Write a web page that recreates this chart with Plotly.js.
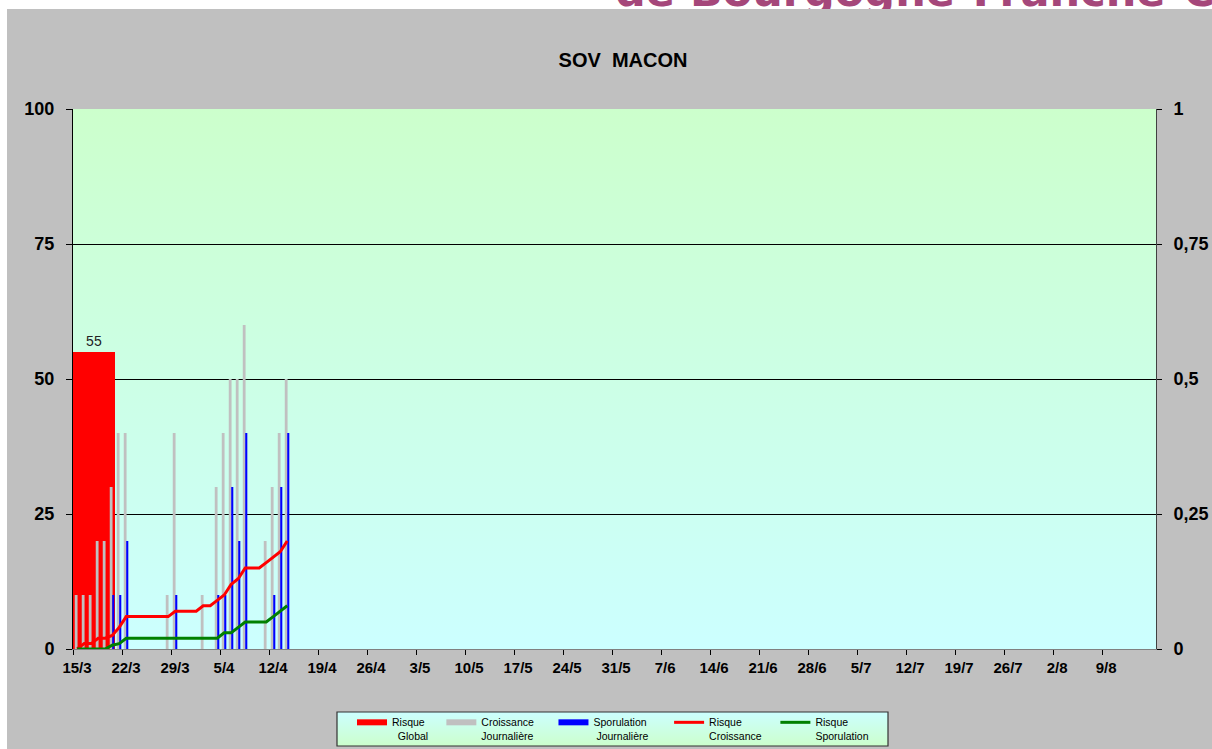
<!DOCTYPE html>
<html><head><meta charset="utf-8">
<script src="https://cdn.plot.ly/plotly-3.0.1.min.js"></script>
<style>
html,body{margin:0;padding:0;background:#fff;width:1212px;height:749px;overflow:hidden;position:relative}
#banner{position:absolute;left:615px;top:-30px;font-family:"DejaVu Sans";font-weight:bold;font-size:43px;line-height:43px;color:#a5477a;white-space:nowrap}
#chart{position:absolute;left:7px;top:9px;width:1205px;height:740px}
</style></head><body>
<div id="banner">de Bourgogne-Franche-Comté</div>
<div id="chart"></div>
<script>
// tick labels (one per week, starting 15/3 = day 0)
const dateLabels = ['15/3','22/3','29/3','5/4','12/4','19/4','26/4','3/5','10/5','17/5','24/5','31/5','7/6','14/6','21/6','28/6','5/7','12/7','19/7','26/7','2/8','9/8'];

// Risque Global (left axis)
const globalDays = [0];
const globalValues = [55];
const globalLabels = ['55'];

// Croissance Journalière (left axis)
const croissanceDays   = [0,1,2,3,4,5,6,7,13,14,18,20,21,22,23,24,27,28,29,30];
const croissanceValues = [10,10,10,20,20,30,40,40,10,40,10,30,40,50,50,60,20,30,40,50];

// Sporulation Journalière (left axis)
const sporulationDays   = [5,6,7,14,20,21,22,23,24,28,29,30];
const sporulationValues = [10,10,20,10,10,10,30,20,40,10,30,40];

// cumulative risks (right axis)
const riskDays = [0,1,2,3,4,5,6,7,8,9,10,11,12,13,14,15,16,17,18,19,20,21,22,23,24,25,26,27,28,29,30];
const risqueCroissance  = [0,0.01,0.01,0.02,0.02,0.025,0.04,0.06,0.06,0.06,0.06,0.06,0.06,0.06,0.07,0.07,0.07,0.07,0.08,0.08,0.09,0.10,0.12,0.13,0.15,0.15,0.15,0.16,0.17,0.18,0.20];
const risqueSporulation = [0,0,0,0,0,0.007,0.01,0.02,0.02,0.02,0.02,0.02,0.02,0.02,0.02,0.02,0.02,0.02,0.02,0.02,0.02,0.03,0.03,0.04,0.05,0.05,0.05,0.05,0.06,0.07,0.08];

const leftTicks = [0,25,50,75,100];
const rightTicks = [0,0.25,0.5,0.75,1];
const rightTickText = ['0','0,25','0,5','0,75','1'];

const legendNames = [
  'Risque\u00a0\u00a0\u00a0\u00a0<br>\u00a0\u00a0Global',
  'Croissance\u00a0\u00a0\u00a0\u00a0\u00a0<br>Journalière',
  'Sporulation\u00a0\u00a0\u00a0\u00a0\u00a0\u00a0<br>\u00a0Journalière',
  'Risque<br>Croissance\u00a0\u00a0\u00a0',
  'Risque<br>Sporulation'
];

const FONT = 'Liberation Sans, Arial, sans-serif';
const tickvals = dateLabels.map((_, i) => i * 7 - 0.6);

const gradPlot = '<svg xmlns="http://www.w3.org/2000/svg" width="10" height="100" viewBox="0 0 10 100" preserveAspectRatio="none"><defs><linearGradient id="g" x1="0" y1="0" x2="0" y2="1"><stop offset="0" stop-color="#ccffcc"/><stop offset="1" stop-color="#ccffff"/></linearGradient></defs><rect width="10" height="100" fill="url(#g)"/></svg>';
const gradLegend = '<svg xmlns="http://www.w3.org/2000/svg" width="10" height="100" viewBox="0 0 10 100" preserveAspectRatio="none"><defs><linearGradient id="g" x1="0" y1="0" x2="0" y2="1"><stop offset="0" stop-color="#ccffff"/><stop offset="1" stop-color="#ccffcc"/></linearGradient></defs><rect width="10" height="100" fill="url(#g)"/></svg>';

// plot area in chart-div pixels: left 66, right 1149, top 100, bottom 640
const PW = 1083, PH = 540;
const px = v => (v - 66) / PW;
const py = v => (640 - v) / PH;

const traces = [
  {type:'bar', x:globalDays, y:globalValues, offset:-0.6, width:6, marker:{color:'#ff0000', line:{width:0}},
   text:globalLabels, textposition:'outside', textfont:{family:FONT, size:14, color:'#222'}, cliponaxis:false,
   showlegend:false, hoverinfo:'skip'},
  {type:'bar', x:croissanceDays, y:croissanceValues, offset:-0.35, width:0.4, marker:{color:'#c0c0c0', line:{width:0}}, showlegend:false},
  {type:'bar', x:sporulationDays, y:sporulationValues, offset:0.0, width:0.3, marker:{color:'#0000ff', line:{width:0}}, showlegend:false},
  {type:'scatter', mode:'lines', x:riskDays, y:risqueCroissance, yaxis:'y2', line:{color:'#ff0000', width:3}, showlegend:false},
  {type:'scatter', mode:'lines', x:riskDays, y:risqueSporulation, yaxis:'y2', line:{color:'#008000', width:3}, showlegend:false},
  // legend entries
  {type:'scatter', mode:'lines', x:[null], y:[null], name:legendNames[0], line:{color:'#ff0000', width:6}},
  {type:'scatter', mode:'lines', x:[null], y:[null], name:legendNames[1], line:{color:'#c0c0c0', width:6}},
  {type:'scatter', mode:'lines', x:[null], y:[null], name:legendNames[2], line:{color:'#0000ff', width:6}},
  {type:'scatter', mode:'lines', x:[null], y:[null], name:legendNames[3], line:{color:'#ff0000', width:3}},
  {type:'scatter', mode:'lines', x:[null], y:[null], name:legendNames[4], line:{color:'#008000', width:3}}
];

const layout = {
  width:1205, height:740,
  margin:{l:66, r:56, t:100, b:100, pad:0, autoexpand:false},
  paper_bgcolor:'#c0c0c0',
  plot_bgcolor:'rgba(0,0,0,0)',
  barmode:'overlay',
  separators:', ',
  font:{family:FONT, color:'#000'},
  title:{text:'<b>SOV\u00a0\u00a0MACON</b>', font:{family:FONT, size:20, color:'#000'}, x:616/1205, xanchor:'center', y:1-51/740, yanchor:'middle'},
  images:[
    {source:'data:image/svg+xml;charset=utf-8,' + encodeURIComponent(gradPlot), xref:'paper', yref:'paper', x:0, y:1, sizex:1, sizey:1, sizing:'stretch', xanchor:'left', yanchor:'top', layer:'below'},
    {source:'data:image/svg+xml;charset=utf-8,' + encodeURIComponent(gradLegend), xref:'paper', yref:'paper', x:px(330), y:py(703), sizex:px(881)-px(330), sizey:py(703)-py(737), sizing:'stretch', xanchor:'left', yanchor:'top', layer:'above'}
  ],
  shapes:[
    {type:'rect', xref:'paper', yref:'paper', x0:px(330), x1:px(881), y0:py(703), y1:py(737), line:{color:'#333', width:1.2}, fillcolor:'rgba(0,0,0,0)', layer:'above'}
  ],
  xaxis:{range:[-0.6, 154.1], tickmode:'array', tickvals:tickvals, ticktext:dateLabels,
    ticks:'outside', ticklen:5, tickcolor:'#000', showline:true, linecolor:'#808080', linewidth:1,
    showgrid:false, zeroline:false, tickfont:{family:FONT, size:15, weight:'bold', color:'#000'}, ticklabelshift:4, fixedrange:true},
  yaxis:{range:[0,100], tickmode:'array', tickvals:leftTicks, ticks:'outside', ticklen:6, tickcolor:'#000',
    showline:true, linecolor:'#000', linewidth:1, showgrid:true, gridcolor:'#000', gridwidth:1, zeroline:false,
    tickfont:{family:FONT, size:18, weight:'bold', color:'#000'}, ticklabelstandoff:8, fixedrange:true},
  yaxis2:{overlaying:'y', side:'right', anchor:'x', range:[0,1], tickmode:'array', tickvals:rightTicks, ticktext:rightTickText,
    ticks:'outside', ticklen:5, tickcolor:'#000', showline:true, linecolor:'#404040', linewidth:1, showgrid:false, zeroline:false,
    tickfont:{family:FONT, size:18, weight:'bold', color:'#000'}, ticklabelstandoff:8, fixedrange:true},
  legend:{orientation:'h', x:px(345), xanchor:'left', y:py(700), yanchor:'top', valign:'top',
    bgcolor:'rgba(0,0,0,0)', borderwidth:0, font:{family:FONT, size:10.5, color:'#000'}, itemwidth:30},
  showlegend:true
};

Plotly.newPlot('chart', traces, layout, {displayModeBar:false, staticPlot:true});
</script>
</body></html>
